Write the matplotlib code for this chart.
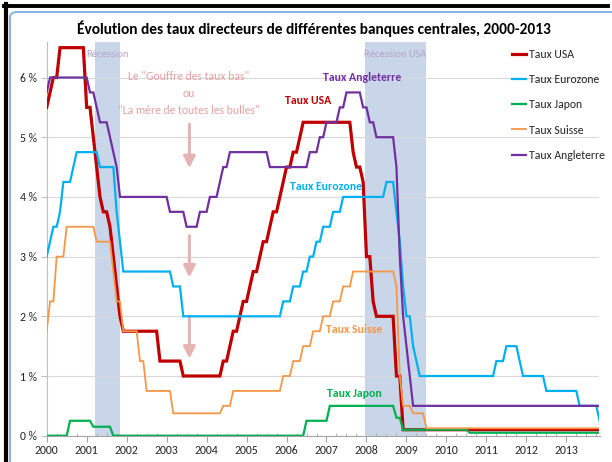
import matplotlib
matplotlib.use("Agg")
import matplotlib.pyplot as plt
from matplotlib import font_manager
from matplotlib.patches import FancyBboxPatch
from matplotlib.lines import Line2D
from matplotlib.ticker import MultipleLocator
import numpy as np

# ---------------- data (monthly, Jan 2000 .. Nov 2013) ----------------
start_year = 2000
usa = ([5.5, 5.75, 6.0, 6.0, 6.5, 6.5, 6.5, 6.5, 6.5, 6.5, 6.5, 6.5] +
       [5.5, 5.5, 5.0, 4.5, 4.0, 3.75, 3.75, 3.5, 3.0, 2.5, 2.0, 1.75] +
       [1.75] * 10 + [1.25, 1.25] +
       [1.25] * 5 + [1.0] * 7 +
       [1.0] * 5 + [1.25, 1.25, 1.5, 1.75, 1.75, 2.0, 2.25] +
       [2.25, 2.5, 2.75, 2.75, 3.0, 3.25, 3.25, 3.5, 3.75, 3.75, 4.0, 4.25] +
       [4.5, 4.5, 4.75, 4.75, 5.0, 5.25, 5.25, 5.25, 5.25, 5.25, 5.25, 5.25] +
       [5.25] * 8 + [4.75, 4.5, 4.5, 4.25] +
       [3.0, 3.0, 2.25, 2.0, 2.0, 2.0, 2.0, 2.0, 2.0, 1.0, 1.0, 0.1] +
       [0.1] * 12 + [0.1] * 12 + [0.1] * 12 + [0.1] * 12 + [0.1] * 11)

eurozone = ([3.0, 3.25, 3.5, 3.5, 3.75, 4.25, 4.25, 4.25, 4.5, 4.75, 4.75, 4.75] +
            [4.75, 4.75, 4.75, 4.75, 4.5, 4.5, 4.5, 4.5, 4.5, 3.75, 3.25, 2.75] +
            [2.75] * 12 +
            [2.75, 2.75, 2.5, 2.5, 2.5] + [2.0] * 7 +
            [2.0] * 12 +
            [2.0] * 11 + [2.25] +
            [2.25, 2.25, 2.5, 2.5, 2.5, 2.75, 2.75, 3.0, 3.0, 3.25, 3.25, 3.5] +
            [3.5, 3.5, 3.75, 3.75, 3.75] + [4.0] * 7 +
            [4.0] * 6 + [4.25, 4.25, 4.25, 3.75, 3.25, 2.5] +
            [2.0, 2.0, 1.5, 1.25] + [1.0] * 8 +
            [1.0] * 12 +
            [1.0, 1.0, 1.0, 1.25, 1.25, 1.25, 1.5, 1.5, 1.5, 1.5, 1.25, 1.0] +
            [1.0] * 6 + [0.75] * 6 +
            [0.75] * 4 + [0.5] * 6 + [0.25])

japon = ([0.0] * 7 + [0.25] * 5 +
         [0.25, 0.25] + [0.15] * 6 + [0.0] * 4 +
         [0.0] * 12 + [0.0] * 12 + [0.0] * 12 + [0.0] * 12 +
         [0.0] * 6 + [0.25] * 6 +
         [0.25] + [0.5] * 11 +
         [0.5] * 9 + [0.3, 0.3, 0.1] +
         [0.1] * 12 +
         [0.1] * 7 + [0.05] * 5 +
         [0.05] * 12 + [0.05] * 12 + [0.05] * 11)

suisse = ([1.75, 2.25, 2.25, 3.0, 3.0, 3.0, 3.5, 3.5, 3.5, 3.5, 3.5, 3.5] +
          [3.5, 3.5, 3.5, 3.25, 3.25, 3.25, 3.25, 3.25, 2.75, 2.25, 2.25, 1.75] +
          [1.75, 1.75, 1.75, 1.75, 1.25, 1.25, 0.75, 0.75, 0.75, 0.75, 0.75, 0.75] +
          [0.75, 0.75] + [0.375] * 10 +
          [0.375] * 5 + [0.5, 0.5, 0.5] + [0.75] * 4 +
          [0.75] * 11 + [1.0] +
          [1.0, 1.0, 1.25, 1.25, 1.25, 1.5, 1.5, 1.5, 1.75, 1.75, 1.75, 2.0] +
          [2.0, 2.0, 2.25, 2.25, 2.25, 2.5, 2.5, 2.5, 2.75, 2.75, 2.75, 2.75] +
          [2.75] * 9 + [2.5, 1.0, 0.5] +
          [0.5, 0.5, 0.375, 0.375, 0.375, 0.375] + [0.125] * 6 +
          [0.125] * 12 + [0.125] * 12 + [0.125] * 12 + [0.125] * 11)

angleterre = ([5.75] + [6.0] * 11 +
              [6.0, 5.75, 5.75, 5.5, 5.25, 5.25, 5.25, 5.0, 4.75, 4.5, 4.0, 4.0] +
              [4.0] * 12 +
              [4.0] + [3.75] * 5 + [3.5] * 4 + [3.75, 3.75] +
              [3.75, 4.0, 4.0, 4.0, 4.25, 4.5, 4.5] + [4.75] * 5 +
              [4.75] * 7 + [4.5] * 5 +
              [4.5] * 7 + [4.75, 4.75, 4.75, 5.0, 5.0] +
              [5.25] * 4 + [5.5, 5.5] + [5.75] * 5 + [5.5] +
              [5.5, 5.25, 5.25] + [5.0] * 6 + [4.5, 3.0, 2.0] +
              [1.5, 1.0] + [0.5] * 10 +
              [0.5] * 12 + [0.5] * 12 + [0.5] * 12 + [0.5] * 11)

series_names = ["Taux USA", "Taux Eurozone", "Taux Japon", "Taux Suisse", "Taux Angleterre"]
series_values = [usa, eurozone, japon, suisse, angleterre]
series_colors = ["#c00000", "#00b0f0", "#00b050", "#f79646", "#7030a0"]
series_widths = [2.3, 1.6, 1.6, 1.3, 1.6]

recessions = [(2001.2, 2001.83), (2007.97, 2009.48)]
recession_labels = ["Récession", "Récession USA"]
year_ticks = list(range(2000, 2014))
y_ticks = [0, 1, 2, 3, 4, 5, 6]

title = "Évolution des taux directeurs de différentes banques centrales, 2000-2013"

# ---------------- fonts ----------------
avail = {f.name for f in font_manager.fontManager.ttflist}
base_font = "Carlito" if "Carlito" in avail else ("Lato" if "Lato" in avail else "DejaVu Sans")
plt.rcParams["font.family"] = [base_font, "DejaVu Sans"]

# ---------------- figure ----------------
W, H = 612, 462
fig = plt.figure(figsize=(W / 100, H / 100), dpi=100)
fig.patch.set_facecolor("white")

def fx(px):
    return px / W

def fy(py):
    return 1 - py / H

# decorative frame
fig.add_artist(FancyBboxPatch((fx(10), fy(470)), fx(640), fy(12) - fy(470),
                              boxstyle="round,pad=0,rounding_size=0.012",
                              transform=fig.transFigure, facecolor="none",
                              edgecolor="#8db3e2", lw=1.5, zorder=0))
fig.add_artist(Line2D([fx(4), fx(608)], [fy(5.5), fy(5.5)], transform=fig.transFigure,
                      color="black", lw=2.8))
fig.add_artist(Line2D([fx(5.5), fx(5.5)], [fy(4), fy(470)], transform=fig.transFigure,
                      color="black", lw=3.0))

ax = fig.add_axes([fx(46.7), fy(435.7), fx(599.5) - fx(46.7), fy(41.7) - fy(435.7)])
ax.set_facecolor("none")

months = np.arange(len(usa))
x = start_year + months / 12.0

for (a, b) in recessions:
    ax.axvspan(a, b, color="#c9d6ea", lw=0, zorder=0)

for name, vals, col, lw in zip(series_names, series_values, series_colors, series_widths):
    ax.plot(x[:len(vals)], vals, color=col, lw=lw, label=name, zorder=3,
            solid_joinstyle="miter")

ax.set_xlim(2000, 2013.83)
ax.set_ylim(0, 6.6)
ax.set_yticks(y_ticks)
ax.set_yticklabels([f"{v} %" for v in y_ticks])
ax.set_xticks(year_ticks)
ax.set_xticklabels([str(v) for v in year_ticks])
ax.xaxis.set_minor_locator(MultipleLocator(0.25))
ax.grid(axis="y", color="#d9d9d9", lw=0.8, zorder=1)
for s in ["top", "right"]:
    ax.spines[s].set_visible(False)
ax.spines["left"].set_color("#bfbfbf")
ax.spines["bottom"].set_color("#a6a6a6")
ax.tick_params(axis="y", length=4, color="#bfbfbf", labelsize=8.5, pad=3, labelcolor="#262626")
ax.tick_params(axis="x", which="major", length=4, direction="out", color="#a6a6a6",
               labelsize=8.5, pad=3, labelcolor="#262626")
ax.tick_params(axis="x", which="minor", length=2.5, direction="in", color="#a6a6a6")

# recession labels
for (a, b), lab in zip(recessions, recession_labels):
    ax.text((a + b) / 2, 6.38, lab, ha="center", va="center", fontsize=7.6, color="#b3a2c7")

# series annotations
ax.text(2006.55, 5.62, "Taux USA", color="#c00000", fontsize=8.5, fontweight="bold", ha="center", va="center")
ax.text(2007.9, 6.0, "Taux Angleterre", color="#7030a0", fontsize=8.5, fontweight="bold", ha="center", va="center")
ax.text(2006.98, 4.17, "Taux Eurozone", color="#00b0f0", fontsize=8.5, fontweight="bold", ha="center", va="center")
ax.text(2007.7, 1.78, "Taux Suisse", color="#f79646", fontsize=8.5, fontweight="bold", ha="center", va="center")
ax.text(2007.7, 0.71, "Taux Japon", color="#00b050", fontsize=8.5, fontweight="bold", ha="center", va="center")

pink = "#e6a1a1"
ax.text(2003.55, 6.02, 'Le "Gouffre des taux bas"', color=pink, fontsize=8.5, ha="center", va="center")
ax.text(2003.55, 5.73, "ou", color=pink, fontsize=8.5, ha="center", va="center")
ax.text(2003.55, 5.45, '"La mère de toutes les bulles"', color=pink, fontsize=8.5, ha="center", va="center")
arrow_tops = [5.22, 3.35, 2.0]
arrow_bottoms = [4.48, 2.65, 1.29]
for t, b in zip(arrow_tops, arrow_bottoms):
    ax.annotate("", xy=(2003.57, b), xytext=(2003.57, t),
                arrowprops=dict(arrowstyle="-|>,head_width=0.35,head_length=0.7",
                                color="#e6b3b3", lw=2.2, shrinkA=0, shrinkB=0), zorder=2)

fig.text(fx(314), fy(29), title, ha="center", va="center", fontsize=11.1, fontweight="bold", color="black")

leg = fig.legend(loc="upper left", bbox_to_anchor=(fx(512), fy(49)), frameon=False,
                 fontsize=8.5, handlelength=1.15, handletextpad=0.3, labelspacing=1.2,
                 borderaxespad=0, borderpad=0)
for t in leg.get_texts():
    t.set_color("#262626")

fig.savefig("out.png", dpi=100)
